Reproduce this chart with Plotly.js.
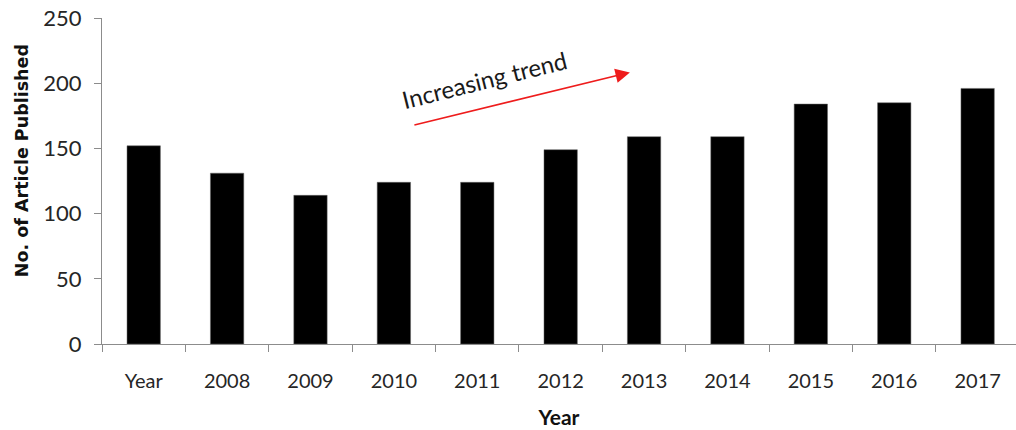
<!DOCTYPE html>
<html>
<head>
<meta charset="utf-8">
<script src="https://cdn.plot.ly/plotly-3.0.1.min.js"></script>
<style>html,body{margin:0;padding:0;background:#fff;}#chart{width:1016px;height:430px;}</style>
</head>
<body>
<div id="chart"></div>
<script>
const categories = ["Year", "2008", "2009", "2010", "2011", "2012", "2013", "2014", "2015", "2016", "2017"];
const articles = [152, 131, 114, 124, 124, 149, 159, 159, 184, 185, 196];
const yTicks = [0, 50, 100, 150, 200, 250];
const xTitle = "Year";
const yTitle = "No. of Article Published";
const trendLabel = "Increasing trend";

const FONT = "Lato, 'Open Sans', sans-serif";

const trace = {
  type: "bar",
  x: categories,
  y: articles,
  width: 0.4,
  marker: {color: "#000000", line: {color: "#666666", width: 0.5}},
  hoverinfo: "x+y"
};

const layout = {
  width: 1016,
  height: 430,
  margin: {l: 102, r: 0, t: 18, b: 86},
  paper_bgcolor: "#ffffff",
  plot_bgcolor: "#ffffff",
  showlegend: false,
  font: {family: FONT, color: "#262626"},
  xaxis: {
    type: "category",
    range: [-0.5, 10.46],
    showline: true,
    linecolor: "#8c8c8c",
    linewidth: 1,
    ticks: "outside",
    tickson: "boundaries",
    ticklen: 7,
    tickcolor: "#8c8c8c",
    showgrid: false,
    zeroline: false,
    tickfont: {size: 20, color: "#262626", family: FONT},
    ticklabelstandoff: 19,
    title: {text: xTitle, font: {size: 21, color: "#111111", family: FONT, weight: "bold"}, standoff: 19}
  },
  yaxis: {
    range: [0, 250],
    tickvals: yTicks,
    showline: true,
    linecolor: "#8c8c8c",
    linewidth: 1,
    ticks: "outside",
    ticklen: 7,
    tickcolor: "#8c8c8c",
    showgrid: false,
    zeroline: false,
    tickfont: {size: 22, color: "#262626", family: FONT},
    ticklabelstandoff: 8
  },
  annotations: [
    {
      x: -0.0875, y: 0.561, xref: "paper", yref: "paper",
      xanchor: "center", yanchor: "middle",
      text: yTitle, showarrow: false, textangle: -90,
      font: {size: 17.5, color: "#111111", family: "'DejaVu Sans', sans-serif", weight: "bold"}
    },
    {
      x: 5.83, y: 208.3, xref: "x", yref: "y",
      ax: -217, ay: 53,
      showarrow: true, arrowhead: 2, arrowsize: 1.8, arrowwidth: 1.6,
      arrowcolor: "#ee1c1c", text: ""
    },
    {
      x: 4.09, y: 203, xref: "x", yref: "y",
      text: trendLabel, showarrow: false, textangle: -14,
      font: {size: 24, color: "#1a1a1a", family: FONT}
    }
  ]
};

Plotly.newPlot("chart", [trace], layout, {displayModeBar: false, staticPlot: true});
</script>
</body>
</html>
